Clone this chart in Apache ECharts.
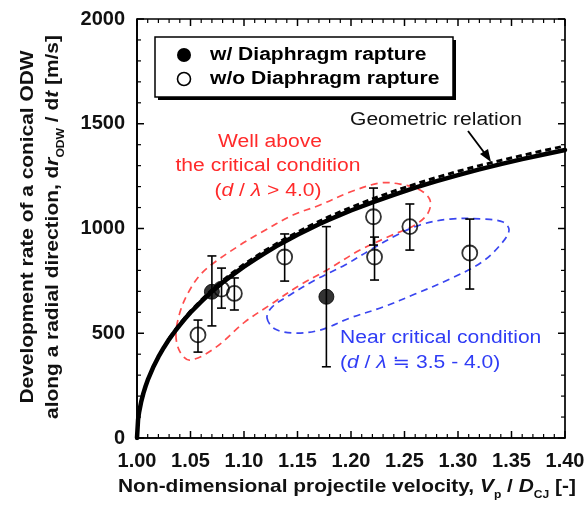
<!DOCTYPE html>
<html><head><meta charset="utf-8">
<script src="https://cdn.jsdelivr.net/npm/echarts@6/dist/echarts.min.js"></script>
<style>html,body{margin:0;padding:0;background:#fff}#c{width:585px;height:506px}</style>
</head><body><div id="c"></div>
<script>
// ---- data ----
const xTickLabels = ['1.00','1.05','1.10','1.15','1.20','1.25','1.30','1.35','1.40'];
const yTickLabels = ['0','500','1000','1500','2000'];

// w/ Diaphragm rapture (filled)
const withX  = [1.070, 1.177];
const withY  = [698, 674];
const withLo = [535, 340];
const withHi = [869, 1009];

// w/o Diaphragm rapture (open)
const withoutX  = [1.057, 1.079, 1.091, 1.138, 1.221, 1.222, 1.255, 1.311];
const withoutY  = [492, 711, 690, 864, 1056, 864, 1009, 883];
const withoutLo = [410, 620, 611, 749, 921, 754, 897, 711];
const withoutHi = [563, 811, 764, 974, 1193, 959, 1117, 1045];

// Geometric relation curve (solid) and its dashed companion
const geoX = [1.000,1.001,1.002,1.004,1.006,1.008,1.010,1.015,1.020,1.025,1.030,1.035,1.040,1.045,1.050,1.060,1.070,1.080,1.090,1.100,1.110,1.120,1.130,1.140,1.150,1.160,1.170,1.180,1.190,1.200,1.220,1.240,1.260,1.280,1.300,1.320,1.340,1.360,1.380,1.400];
const geoY = [0,88,124,175,214,247,276,336,387,431,471,506,539,570,599,651,699,742,781,818,852,884,915,943,970,995,1020,1043,1065,1086,1125,1161,1195,1226,1255,1282,1307,1331,1353,1375];
const geoDashX = [1.03,1.04,1.05,1.06,1.07,1.08,1.09,1.10,1.12,1.14,1.16,1.18,1.20,1.22,1.24,1.26,1.28,1.30,1.32,1.34,1.36,1.38,1.40];
const geoDashY = [476,545,606,658,707,751,791,829,896,956,1009,1058,1101,1141,1178,1212,1244,1273,1300,1325,1349,1372,1394];

// Red loop: "Well above the critical condition"
const redLoopX = [1.0364,1.0402,1.0495,1.0729,1.1009,1.1243,1.1523,1.1776,1.2084,1.2364,1.2598,1.2720,1.2738,1.2645,1.2458,1.2271,1.1991,1.1710,1.1458,1.1150,1.0963,1.0729,1.0589,1.0477,1.0402];
const redLoopY = [492,411,372,430,554,635,730,802,897,964,1017,1074,1136,1184,1212,1217,1174,1112,1064,978,921,840,778,692,601];

// Blue loop: "Near critical condition"
const blueLoopX = [1.1215,1.1290,1.1477,1.1710,1.1991,1.2299,1.2598,1.2925,1.3224,1.3411,1.3477,1.3421,1.3234,1.2925,1.2645,1.2411,1.2178,1.1944,1.1664,1.1430,1.1262];
const blueLoopY = [573,520,501,515,573,625,687,759,840,931,993,1031,1045,1045,1017,964,897,826,754,683,625];

// ---- chart ----
const FONT = '"Liberation Sans", Arial, "DejaVu Sans", "Noto Sans CJK JP", sans-serif';
const chart = echarts.init(document.getElementById('c'), null, {renderer: 'canvas'});

const zip = (a, b) => a.map((v, i) => [v, b[i]]);
const errData = (xs, lo, hi) => xs.map((v, i) => [v, lo[i], hi[i]]);
const xMajor = xTickLabels.map((s) => parseFloat(s));
const yMajor = yTickLabels.map((s) => parseFloat(s));
const X_MIN = xMajor[0], X_MAX = xMajor[xMajor.length - 1];
const Y_MIN = yMajor[0], Y_MAX = yMajor[yMajor.length - 1];
const X_MID = (X_MIN + X_MAX) / 2, Y_MID = (Y_MIN + Y_MAX) / 2;
const MINOR = 5, MAJOR_LEN = 7, MINOR_LEN = 4;

// frame outline (box) through the axes
const boxX = [X_MIN, X_MIN, X_MAX, X_MAX, X_MIN];
const boxY = [Y_MIN, Y_MAX, Y_MAX, Y_MIN, Y_MIN];

// tick items: [x, y, side(0 bottom,1 top,2 left,3 right), length]
const tickItems = [];
function addTicks(majors, isX) {
  for (let i = 0; i < majors.length; i++) {
    const vals = [[majors[i], MAJOR_LEN]];
    if (i < majors.length - 1) {
      for (let k = 1; k < MINOR; k++) vals.push([majors[i] + (majors[i + 1] - majors[i]) * k / MINOR, MINOR_LEN]);
    }
    vals.forEach(([v, len]) => {
      if (isX) { tickItems.push([v, Y_MID, 0, len]); tickItems.push([v, Y_MID, 1, len]); }
      else { tickItems.push([X_MID, v, 2, len]); tickItems.push([X_MID, v, 3, len]); }
    });
  }
}
addTicks(xMajor, true);
addTicks(yMajor, false);

function tickItem(params, api) {
  const xv = api.value(0), yv = api.value(1), side = api.value(2), len = api.value(3);
  let p, q;
  if (side === 0) { p = api.coord([xv, Y_MIN]); q = [p[0], p[1] - len]; }
  else if (side === 1) { p = api.coord([xv, Y_MAX]); q = [p[0], p[1] + len]; }
  else if (side === 2) { p = api.coord([X_MIN, yv]); q = [p[0] + len, p[1]]; }
  else { p = api.coord([X_MAX, yv]); q = [p[0] - len, p[1]]; }
  return {type: 'line', shape: {x1: p[0], y1: p[1], x2: q[0], y2: q[1]},
    style: {stroke: '#000', lineWidth: len === MAJOR_LEN ? 1.5 : 1.2}};
}

function errorBarItem(params, api) {
  const x = api.value(0), lo = api.value(1), hi = api.value(2);
  const p1 = api.coord([x, lo]), p2 = api.coord([x, hi]);
  const w = 4.5;
  const st = {stroke: '#000', lineWidth: 1.6};
  return {type: 'group', children: [
    {type: 'line', shape: {x1: p1[0], y1: p1[1], x2: p2[0], y2: p2[1]}, style: st},
    {type: 'line', shape: {x1: p1[0]-w, y1: p1[1], x2: p1[0]+w, y2: p1[1]}, style: st},
    {type: 'line', shape: {x1: p2[0]-w, y1: p2[1], x2: p2[0]+w, y2: p2[1]}, style: st}
  ]};
}

function loopSeries(xs, ys, color) {
  return {
    type: 'custom', silent: true, z: 1,
    data: [[xs[0], ys[0]]],
    renderItem: function (params, api) {
      const pts = xs.map((v, i) => api.coord([v, ys[i]]));
      return {type: 'polygon', shape: {points: pts, smooth: 0.35},
        style: {fill: 'none', stroke: color, lineWidth: 1.7, lineDash: [7, 5]}};
    }
  };
}

const labelStyle = {color: '#111', fontSize: 20, fontWeight: 'bold', fontFamily: FONT};

const option = {
  animation: false,
  backgroundColor: '#fff',
  grid: {left: 137, right: 20, top: 19, bottom: 68, containLabel: false, outerBoundsMode: 'none'},
  xAxis: {type: 'value', min: X_MIN, max: X_MAX, interval: 0.05,
    axisLine: {show: true, onZero: false, lineStyle: {color: '#000', width: 1.7}}, axisTick: {show: false}, splitLine: {show: false},
    axisLabel: Object.assign({margin: 13, formatter: (v) => xTickLabels[Math.round((v - X_MIN) / 0.05)]}, labelStyle)},
  yAxis: {type: 'value', min: Y_MIN, max: Y_MAX, interval: 500,
    axisLine: {show: true, onZero: false, lineStyle: {color: '#000', width: 1.7}}, axisTick: {show: false}, splitLine: {show: false},
    axisLabel: Object.assign({margin: 12, formatter: (v) => yTickLabels[Math.round(v / 500)]}, labelStyle)},
  series: [
    loopSeries(redLoopX, redLoopY, '#ff4d4d'),
    loopSeries(blueLoopX, blueLoopY, '#3a46f0'),
    {type: 'line', data: zip(geoX, geoY), smooth: false, showSymbol: false, z: 3,
      lineStyle: {color: '#000', width: 4.5, join: 'round', cap: 'round'}},
    {type: 'line', data: zip(geoDashX, geoDashY), smooth: false, showSymbol: false, z: 3,
      lineStyle: {color: '#000', width: 3, type: [6, 4]}},
    {type: 'custom', data: errData(withoutX, withoutLo, withoutHi), renderItem: errorBarItem, z: 4},
    {type: 'custom', data: errData(withX, withLo, withHi), renderItem: errorBarItem, z: 4},
    {type: 'scatter', name: 'w/o Diaphragm rapture', data: zip(withoutX, withoutY), symbol: 'circle', symbolSize: 15, z: 5,
      itemStyle: {color: 'rgba(255,255,255,0)', borderColor: '#000', borderWidth: 1.8}},
    {type: 'scatter', name: 'w/ Diaphragm rapture', data: zip(withX, withY), symbol: 'circle', symbolSize: 15, z: 5,
      itemStyle: {color: '#000', borderColor: '#000', borderWidth: 1}},
    // frame box and inward ticks
    {type: 'line', data: zip(boxX, boxY), showSymbol: false, clip: false, silent: true, z: 6,
      lineStyle: {color: '#000', width: 1.7}},
    {type: 'custom', data: tickItems, renderItem: tickItem, clip: false, silent: true, z: 6}
  ],
  graphic: [
    // legend box
    {type: 'rect', shape: {x: 158, y: 40, width: 298, height: 60}, style: {fill: '#000'}, z: 10},
    {type: 'rect', shape: {x: 155, y: 37, width: 298, height: 60}, style: {fill: '#fff', stroke: '#000', lineWidth: 1.5}, z: 11},
    {type: 'circle', shape: {cx: 184, cy: 55, r: 7}, style: {fill: '#000'}, z: 12},
    {type: 'circle', shape: {cx: 184, cy: 79, r: 6.5}, style: {fill: '#fff', stroke: '#000', lineWidth: 1.6}, z: 12},
    {type: 'text', x: 210, y: 55, scaleX: 1.17, z: 12,
      style: {text: 'w/ Diaphragm rapture', font: 'bold 18px ' + FONT, fill: '#000', verticalAlign: 'middle', align: 'left'}},
    {type: 'text', x: 210, y: 79, scaleX: 1.17, z: 12,
      style: {text: 'w/o Diaphragm rapture', font: 'bold 18px ' + FONT, fill: '#000', verticalAlign: 'middle', align: 'left'}},
    // geometric relation label + arrow
    {type: 'text', x: 350, y: 120, scaleX: 1.17, z: 12,
      style: {text: 'Geometric relation', font: '18px ' + FONT, fill: '#111', verticalAlign: 'middle', align: 'left'}},
    {type: 'line', shape: {x1: 468, y1: 131, x2: 486, y2: 155}, style: {stroke: '#000', lineWidth: 1.8}, z: 12},
    {type: 'polygon', shape: {points: [[491, 162], [480, 154], [488, 149]]}, style: {fill: '#000'}, z: 12},
    // red annotation
    {type: 'text', x: 270, y: 142, scaleX: 1.17, z: 12,
      style: {text: 'Well above', font: '18px ' + FONT, fill: '#ff2a2a', verticalAlign: 'middle', align: 'center'}},
    {type: 'text', x: 268, y: 166, scaleX: 1.17, z: 12,
      style: {text: 'the critical condition', font: '18px ' + FONT, fill: '#ff2a2a', verticalAlign: 'middle', align: 'center'}},
    {type: 'text', x: 268, y: 191, scaleX: 1.17, z: 12,
      style: {text: '({i|d} / {i|λ} > 4.0)', font: '18px ' + FONT, fill: '#ff2a2a', verticalAlign: 'middle', align: 'center',
        rich: {i: {fontStyle: 'italic', fontSize: 18, fontFamily: FONT, fill: '#ff2a2a'}}}},
    // blue annotation
    {type: 'text', x: 340, y: 338, scaleX: 1.17, z: 12,
      style: {text: 'Near critical condition', font: '18px ' + FONT, fill: '#2f3cf5', verticalAlign: 'middle', align: 'left'}},
    {type: 'text', x: 340, y: 363, scaleX: 1.17, z: 12,
      style: {text: '({i|d} / {i|λ} ≒ 3.5 - 4.0)', font: '18px ' + FONT, fill: '#2f3cf5', verticalAlign: 'middle', align: 'left',
        rich: {i: {fontStyle: 'italic', fontSize: 18, fontFamily: FONT, fill: '#2f3cf5'}}}},
    // x axis title
    {type: 'text', x: 347, y: 487, scaleX: 1.1, z: 12,
      style: {text: 'Non-dimensional projectile velocity, {i|V}{s|p} / {i|D}{s|CJ} [-]', font: 'bold 19px ' + FONT, fill: '#111',
        verticalAlign: 'middle', align: 'center', lineHeight: 26,
        rich: {i: {fontStyle: 'italic', fontWeight: 'bold', fontSize: 19, fontFamily: FONT, lineHeight: 26},
               s: {fontWeight: 'bold', fontSize: 11, fontFamily: FONT, lineHeight: 11, verticalAlign: 'bottom'}}}},
    // y axis title (two lines)
    {type: 'text', x: 28, y: 227, rotation: Math.PI / 2, scaleX: 1.1, z: 12,
      style: {text: 'Development rate of a conical ODW', font: 'bold 19px ' + FONT, fill: '#111', verticalAlign: 'middle', align: 'center'}},
    {type: 'text', x: 53, y: 227, rotation: Math.PI / 2, scaleX: 1.1, z: 12,
      style: {text: 'along a radial direction, d{i|r}{s|ODW} / d{i|t} [m/s]', font: 'bold 19px ' + FONT, fill: '#111',
        verticalAlign: 'middle', align: 'center', lineHeight: 26,
        rich: {i: {fontStyle: 'italic', fontWeight: 'bold', fontSize: 19, fontFamily: FONT, lineHeight: 26},
               s: {fontWeight: 'bold', fontSize: 11, fontFamily: FONT, lineHeight: 11, verticalAlign: 'bottom'}}}}
  ]
};
chart.setOption(option);
</script>
</body></html>
